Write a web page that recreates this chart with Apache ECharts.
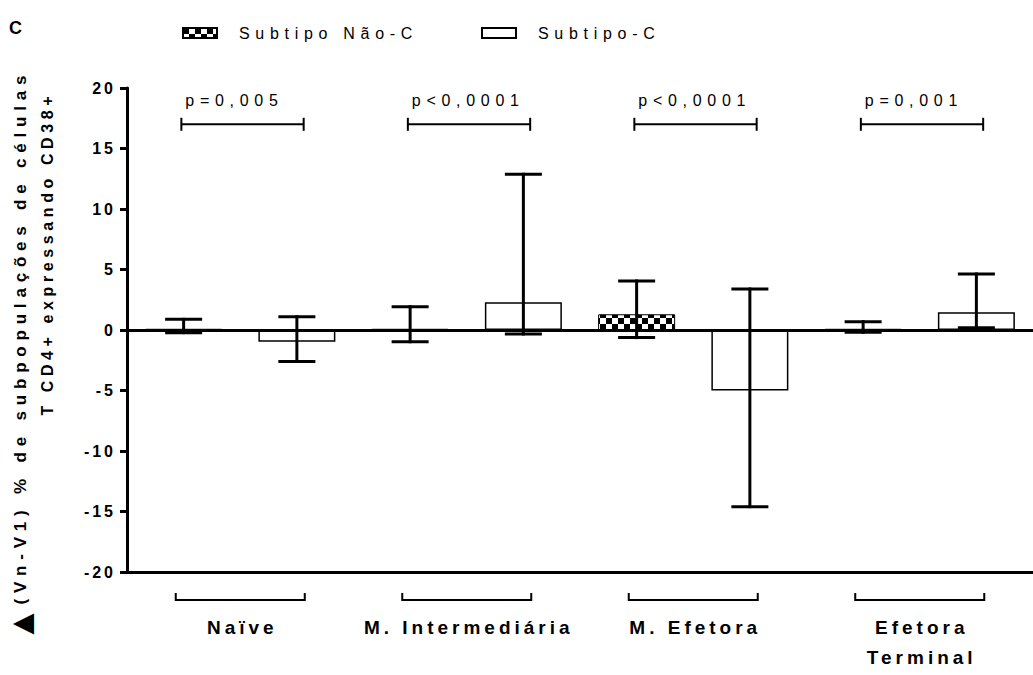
<!DOCTYPE html>
<html><head><meta charset="utf-8">
<script src="https://cdn.jsdelivr.net/npm/echarts@6/dist/echarts.min.js"></script>
<style>html,body{margin:0;padding:0;background:#fff}#chart{width:1033px;height:675px}</style>
</head><body><div id="chart"></div>
<script>
// ---- data ----
const categories = ['Naïve', 'M. Intermediária', 'M. Efetora', 'Efetora\nTerminal'];
const seriesNames = ['Subtipo Não-C', 'Subtipo-C'];
const naoCMean = [0.1, 0.1, 1.3, 0.1];
const naoCLow  = [-0.22, -0.97, -0.63, -0.19];
const naoCHigh = [0.88, 1.93, 4.05, 0.69];
const subCMean = [-0.97, 2.29, -5.0, 1.46];
const subCLow  = [-2.6, -0.33, -14.6, 0.19];
const subCHigh = [1.1, 12.87, 3.39, 4.63];
const pValues = ['p=0,005', 'p<0,0001', 'p<0,0001', 'p=0,001'];
const yTicks = [-20, -15, -10, -5, 0, 5, 10, 15, 20];
const yTitle1 = '(Vn-V1) % de subpopulações de células';
const yTitle2 = 'T CD4+ expressando CD38+';

const FONT = '"Liberation Sans", Arial, sans-serif';

// slots: each category has two bar positions
const slots = [];
categories.forEach(c => seriesNames.forEach(s => slots.push(c.replace('\n', ' ') + ' - ' + s)));
const naoCBars = slots.map((_, k) => k % 2 === 0 ? naoCMean[k / 2] : '-');
const subCBars = slots.map((_, k) => k % 2 === 1 ? subCMean[(k - 1) / 2] : '-');
const naoCErr = naoCMean.map((m, i) => [2 * i, naoCLow[i], naoCHigh[i]]);
const subCErr = subCMean.map((m, i) => [2 * i + 1, subCLow[i], subCHigh[i]]);

// checkered pattern
const pc = document.createElement('canvas');
pc.width = 12; pc.height = 12;
const pctx = pc.getContext('2d');
pctx.fillStyle = '#fff'; pctx.fillRect(0, 0, 12, 12);
pctx.fillStyle = '#000'; pctx.fillRect(0, 0, 6, 6); pctx.fillRect(6, 6, 6, 6);
const checker = { image: pc, repeat: 'repeat' };

function renderErr(params, api) {
  const x = api.value(0);
  const hi = api.coord([x, api.value(2)]);
  const lo = api.coord([x, api.value(1)]);
  const hw = 18.5;
  const st = { stroke: '#000', lineWidth: 3 };
  return { type: 'group', children: [
    { type: 'line', shape: { x1: hi[0], y1: hi[1] - 1.5, x2: lo[0], y2: lo[1] + 1.5 }, style: st },
    { type: 'line', shape: { x1: hi[0] - hw, y1: hi[1], x2: hi[0] + hw, y2: hi[1] }, style: st },
    { type: 'line', shape: { x1: lo[0] - hw, y1: lo[1], x2: lo[0] + hw, y2: lo[1] }, style: st }
  ]};
}

function renderGroupBracket(params, api) {
  const p = api.coord([api.value(0), api.value(1)]);
  const hw = 64.5;
  return { type: 'polyline', shape: { points: [[p[0] - hw, p[1] + 21], [p[0] - hw, p[1] + 28], [p[0] + hw, p[1] + 28], [p[0] + hw, p[1] + 21]] },
    style: { stroke: '#000', lineWidth: 2, fill: null } };
}

function renderPBracket(params, api) {
  const c = api.coord([api.value(0), api.value(1)]);
  const hw = api.size([1.08, 0])[0] / 2;
  const t = api.coord([api.value(0), api.value(2)]);
  return { type: 'group', children: [
    { type: 'line', shape: { x1: c[0] - hw, y1: c[1], x2: c[0] + hw, y2: c[1] }, style: { stroke: '#000', lineWidth: 2 } },
    { type: 'line', shape: { x1: c[0] - hw, y1: c[1] - 6.5, x2: c[0] - hw, y2: c[1] + 6.5 }, style: { stroke: '#000', lineWidth: 2 } },
    { type: 'line', shape: { x1: c[0] + hw, y1: c[1] - 6.5, x2: c[0] + hw, y2: c[1] + 6.5 }, style: { stroke: '#000', lineWidth: 2 } },
    { type: 'text', x: c[0] - hw + 4, y: t[1], style: { text: pValues[params.dataIndex], fill: '#000', fontSize: 16, fontFamily: FONT, align: 'left', verticalAlign: 'middle' } }
  ]};
}

const chart = echarts.init(document.getElementById('chart'), null, { renderer: 'svg' });
const option = {
  animation: false,
  backgroundColor: '#fff',
  title: { text: 'C', left: 9, top: 19, padding: 0, textStyle: { fontSize: 18, fontWeight: 'bold', fontFamily: FONT, color: '#000' } },
  legend: [
    { data: [seriesNames[0]], left: 182, top: 25, padding: 0, icon: 'rect', itemWidth: 34, itemHeight: 10, selectedMode: false,
      textStyle: { fontSize: 16, fontFamily: FONT, color: '#000', padding: [0, 0, 0, 17] } },
    { data: [seriesNames[1]], left: 481, top: 25, padding: 0, icon: 'rect', itemWidth: 34, itemHeight: 10, selectedMode: false,
      textStyle: { fontSize: 16, fontFamily: FONT, color: '#000', padding: [0, 0, 0, 17] } }
  ],
  grid: { left: 127, top: 88, width: 908, height: 484, containLabel: false },
  xAxis: [
    { type: 'category', data: slots, position: 'bottom',
      axisLine: { onZero: false, lineStyle: { color: '#000', width: 3 } },
      axisTick: { alignWithLabel: true, length: 8, lineStyle: { color: '#000', width: 3 } },
      axisLabel: { show: false }, splitLine: { show: false } },
    { type: 'category', data: categories, position: 'bottom',
      axisLine: { show: false, onZero: false }, axisTick: { show: false },
      axisLabel: { margin: 40, fontSize: 19, fontWeight: 'bold', fontFamily: FONT, color: '#000', lineHeight: 30, interval: 0 } },
    { type: 'value', min: -0.5, max: 7.5, show: false }
  ],
  yAxis: {
    type: 'value', min: yTicks[0], max: yTicks[yTicks.length - 1], interval: yTicks[1] - yTicks[0],
    axisLine: { show: true, onZero: false, lineStyle: { color: '#000', width: 3 } },
    axisTick: { show: true, length: 7, lineStyle: { color: '#000', width: 3 } },
    axisLabel: { margin: 14, fontSize: 16, fontWeight: 'bold', fontFamily: FONT, color: '#000' },
    splitLine: { show: false }
  },
  graphic: [
    { type: 'text', x: 21, y: 624, rotation: Math.PI / 2,
      style: { text: '▲', align: 'center', verticalAlign: 'middle', fill: '#000', fontSize: 36, lineHeight: 36, fontWeight: 'bold', fontFamily: FONT } },
    { type: 'text', x: 20, y: 340, rotation: Math.PI / 2,
      style: { text: yTitle1, align: 'center', verticalAlign: 'middle', fill: '#000', fontSize: 17, fontWeight: 'bold', fontFamily: FONT } },
    { type: 'text', x: 47, y: 256, rotation: Math.PI / 2,
      style: { text: yTitle2, align: 'center', verticalAlign: 'middle', fill: '#000', fontSize: 16, fontWeight: 'bold', fontFamily: FONT } }
  ],
  series: [
    { name: seriesNames[0], type: 'bar', xAxisIndex: 0, data: naoCBars, barWidth: 77, barGap: '-100%',
      itemStyle: { color: checker, borderColor: '#000', borderWidth: 1 } },
    { name: seriesNames[1], type: 'bar', xAxisIndex: 0, data: subCBars, barWidth: 77, barGap: '-100%',
      itemStyle: { color: '#fff', borderColor: '#000', borderWidth: 1.5 },
      markLine: { silent: true, symbol: ['none', 'none'], label: { show: false }, animation: false,
        lineStyle: { color: '#000', width: 3, type: 'solid' }, data: [{ yAxis: 0 }] } },
    { type: 'custom', xAxisIndex: 0, data: naoCErr, renderItem: renderErr, encode: { x: 0, y: [1, 2] }, z: 5, silent: true },
    { type: 'custom', xAxisIndex: 0, data: subCErr, renderItem: renderErr, encode: { x: 0, y: [1, 2] }, z: 5, silent: true },
    { type: 'custom', xAxisIndex: 2, data: categories.map((c, i) => [2 * i + 0.5, yTicks[0]]), renderItem: renderGroupBracket,
      encode: { x: 0, y: 1 }, clip: false, silent: true },
    { type: 'custom', xAxisIndex: 2, data: pValues.map((p, i) => [2 * i + 0.52, 17, 19]), renderItem: renderPBracket,
      encode: { x: 0, y: 1 }, clip: false, silent: true }
  ]
};
chart.setOption(option);

function applySpacing() {
  document.querySelectorAll('#chart svg text').forEach(t => {
    const txt = (t.textContent || '').trim();
    if (!txt || txt === 'C' || txt === '▲') return;
    const cs = getComputedStyle(t);
    const fs = parseFloat(cs.fontSize);
    let s;
    if (/^-?\d+$/.test(txt)) s = 3;
    else if (txt === yTitle1) s = 5.8;
    else if (txt === yTitle2) s = 4.6;
    else if (fs >= 19) s = 4;
    else s = 5.7;
    t.setAttribute('letter-spacing', s + 'px');
    const anchor = t.getAttribute('text-anchor') || cs.textAnchor;
    if (anchor === 'middle') t.setAttribute('dx', (s / 2).toFixed(2));
    else if (anchor === 'end') t.setAttribute('dx', s.toFixed(2));
  });
}
chart.on('finished', applySpacing);
setTimeout(applySpacing, 50);
setTimeout(applySpacing, 300);
</script></body></html>
